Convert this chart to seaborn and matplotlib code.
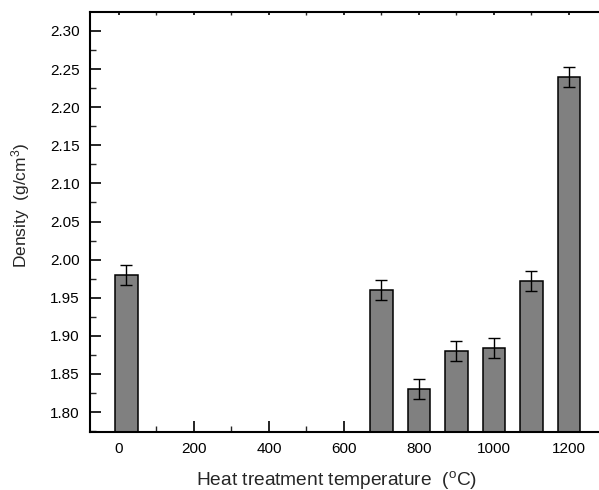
import matplotlib
matplotlib.use("Agg")
import matplotlib.pyplot as plt
from matplotlib.ticker import MultipleLocator
import seaborn as sns
import pandas as pd

temperatures = [20, 700, 800, 900, 1000, 1100, 1200]
density = [1.980, 1.960, 1.830, 1.880, 1.884, 1.972, 2.240]
density_err = [0.013, 0.013, 0.013, 0.013, 0.013, 0.013, 0.013]
x_ticks = [0, 200, 400, 600, 800, 1000, 1200]
y_ticks = [1.80, 1.85, 1.90, 1.95, 2.00, 2.05, 2.10, 2.15, 2.20, 2.25, 2.30]

sns.set_style("ticks")
plt.rcParams['font.family'] = ['Liberation Sans', 'DejaVu Sans']
plt.rcParams['mathtext.fontset'] = 'custom'
plt.rcParams['mathtext.rm'] = 'Liberation Sans'
plt.rcParams['mathtext.it'] = 'Liberation Sans:italic'

df = pd.DataFrame({"temp": temperatures, "density": density, "err": density_err})

fig = plt.figure(figsize=(5.99, 4.90), dpi=100)
ax = fig.add_axes([90/599, 58/490, 509/599, 420/490])

sns.barplot(data=df, x="temp", y="density", native_scale=True, width=0.6,
            color="#808080", saturation=1, edgecolor="black", linewidth=1.1,
            errorbar=None, ax=ax)
ax.errorbar(df["temp"], df["density"], yerr=df["err"], fmt="none",
            ecolor="black", elinewidth=1.0, capsize=4, capthick=1.0, zorder=5)

ax.set_xlim(-77.3, 1280)
ax.set_ylim(1.7738, 2.3249)
ax.set_xticks(x_ticks)
ax.set_xticklabels([str(t) for t in x_ticks])
ax.set_yticks(y_ticks)
ax.set_yticklabels([f"{t:.2f}" for t in y_ticks])
ax.xaxis.set_minor_locator(MultipleLocator(100))
ax.yaxis.set_minor_locator(MultipleLocator(0.025))

ax.tick_params(axis='both', which='major', direction='in', length=8, width=1.2,
               labelsize=11, colors='black', pad=7.5)
ax.tick_params(axis='both', which='minor', direction='in', length=4, width=1.0)
ax.tick_params(axis='x', which='both', top=True)
for t in ax.xaxis.get_major_ticks() + ax.xaxis.get_minor_ticks():
    t.tick2line.set_markersize(2)
for s in ['left', 'bottom', 'top']:
    ax.spines[s].set_linewidth(1.5)
    ax.spines[s].set_color('black')
ax.spines['right'].set_visible(False)

ax.set_xlabel(r"Heat treatment temperature  ($^{\rm o}$C)", fontsize=13.8)
ax.xaxis.set_label_coords(0.485, -0.088)
ax.set_ylabel(r"Density  (g/cm$^{3}$)", fontsize=12.5)
ax.yaxis.set_label_coords(-0.113, 0.54)

fig.savefig("out.png", dpi=100)
